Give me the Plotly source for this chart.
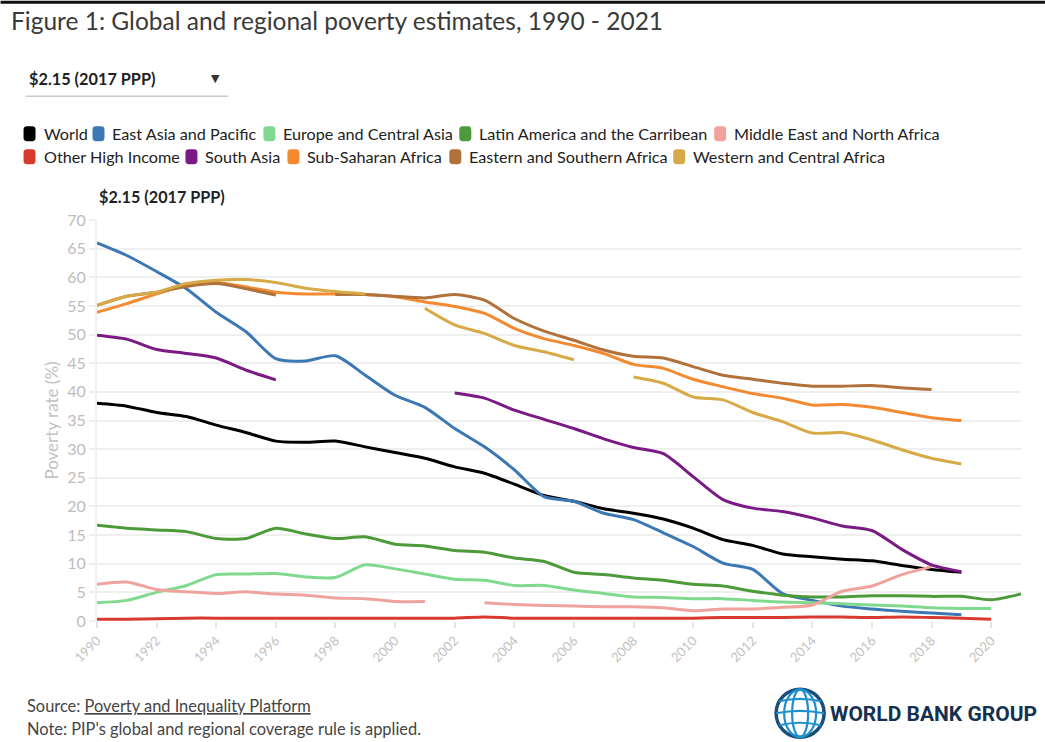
import math
import plotly.graph_objects as go

years = list(range(1990, 2022))

world = [38.0, 37.5, 36.4, 35.7, 34.2, 32.9, 31.4, 31.2, 31.4, 30.4, 29.4, 28.4, 26.9, 25.8, 23.9, 21.9,
         20.9, 19.6, 18.8, 17.8, 16.2, 14.2, 13.2, 11.7, 11.2, 10.8, 10.5, 9.7, 9.0, 8.5, None, None]
eap = [66.0, 63.8, 61.0, 58.0, 53.9, 50.5, 45.8, 45.4, 46.3, 42.9, 39.4, 37.3, 33.6, 30.4, 26.4, 21.7,
       20.9, 18.8, 17.7, 15.4, 13.0, 10.1, 9.0, 4.8, 3.6, 2.6, 2.1, 1.7, 1.4, 1.1, None, None]
eca = [3.2, 3.6, 5.0, 6.2, 8.1, 8.2, 8.3, 7.7, 7.6, 9.8, 9.1, 8.2, 7.3, 7.1, 6.2, 6.2,
       5.4, 4.8, 4.2, 4.1, 3.9, 3.9, 3.6, 3.3, 3.2, 3.0, 2.8, 2.6, 2.3, 2.2, 2.2, None]
lac = [16.7, 16.2, 15.9, 15.6, 14.4, 14.4, 16.2, 15.2, 14.4, 14.7, 13.4, 13.1, 12.3, 12.0, 11.0, 10.4,
       8.5, 8.1, 7.5, 7.1, 6.4, 6.1, 5.2, 4.5, 4.2, 4.2, 4.4, 4.4, 4.3, 4.3, 3.7, 4.7]
mena = [6.4, 6.8, 5.5, 5.1, 4.8, 5.1, 4.7, 4.5, 4.0, 3.9, 3.4, 3.4, None, 3.2, 2.9, 2.7,
        2.6, 2.5, 2.5, 2.3, 1.8, 2.1, 2.1, 2.4, 2.8, 5.2, 6.1, 8.1, 9.5, None, None, None]
ohi = [0.3, 0.3, 0.4, 0.5, 0.5, 0.5, 0.5, 0.5, 0.5, 0.5, 0.5, 0.5, 0.5, 0.7, 0.5, 0.5,
       0.5, 0.5, 0.5, 0.5, 0.5, 0.6, 0.6, 0.6, 0.7, 0.7, 0.6, 0.7, 0.6, 0.5, 0.3, None]
sa = [49.9, 49.2, 47.4, 46.7, 45.9, 43.8, 42.1, None, None, None, None, None, 39.8, 38.9, 36.8, 35.2,
      33.6, 31.8, 30.3, 29.2, 25.2, 21.2, 19.7, 19.1, 18.0, 16.6, 15.8, 12.5, 9.8, 8.6, None, None]
ssa = [53.9, 55.4, 57.1, 58.6, 59.1, 58.3, 57.4, 57.1, 57.1, 57.0, 56.6, 55.7, 54.9, 53.7, 51.1, 49.3,
       48.1, 46.7, 44.8, 44.1, 42.2, 40.9, 39.7, 38.9, 37.7, 37.8, 37.3, 36.4, 35.5, 35.0, None, None]
esa = [55.1, 56.7, 57.4, 58.4, 58.9, 58.0, 56.9, None, 57.0, 57.0, 56.7, 56.4, 57.0, 56.0, 52.8, 50.6,
       49.0, 47.3, 46.2, 45.9, 44.4, 42.9, 42.2, 41.5, 41.0, 41.0, 41.1, 40.7, 40.4, None, None, None]
wca = [55.1, 56.7, 57.4, 58.9, 59.5, 59.6, 59.1, 58.1, 57.5, 57.1, None, 54.6, 51.7, 50.2, 48.1, 47.0,
       45.6, None, 42.6, 41.5, 39.1, 38.6, 36.4, 34.8, 32.8, 32.9, 31.6, 29.9, 28.4, 27.4, None, None]

series_names = ["World", "East Asia and Pacific", "Europe and Central Asia",
                "Latin America and the Carribean", "Middle East and North Africa",
                "Other High Income", "South Asia", "Sub-Saharan Africa",
                "Eastern and Southern Africa", "Western and Central Africa"]
series_values = [world, eap, eca, lac, mena, ohi, sa, ssa, esa, wca]
series_colors = ["#000000", "#3b78b4", "#7fd98f", "#4d9a3a", "#f0a29c",
                 "#d93a2f", "#7a1a84", "#f38a31", "#b0723a", "#d7aa47"]

x_ticks = list(range(1990, 2021, 2))
y_ticks = list(range(0, 71, 5))

W, H = 1045, 742
L, R, T, B = 96.5, 24, 219.5, 120.5
PW, PH = W - L - R, H - T - B


def px(x):
    return (x - L) / PW


def py(y):
    return (H - B - y) / PH


fig = go.Figure()
for name, vals, col in zip(series_names, series_values, series_colors):
    fig.add_trace(go.Scatter(x=years, y=vals, name=name, mode="lines",
                             line=dict(color=col, width=3, shape="spline", smoothing=0.7),
                             connectgaps=False, showlegend=False, hoverinfo="skip"))

FONT = "Lato"
shapes = []
annotations = []

# top dark bar
shapes.append(dict(type="line", xref="paper", yref="paper", x0=px(0), x1=px(W), y0=py(1.2), y1=py(1.2),
                   line=dict(color="#111111", width=3), layer="above"))

# title
annotations.append(dict(text="Figure 1: Global and regional poverty estimates, 1990 - 2021",
                        x=px(8), y=py(20), xref="paper", yref="paper", xanchor="left", yanchor="middle",
                        showarrow=False, font=dict(family=FONT, size=24.5, color="#3a3a3a")))

# dropdown look
annotations.append(dict(text="<b>$2.15 (2017 PPP)</b>", x=px(26), y=py(78), xref="paper", yref="paper",
                        xanchor="left", yanchor="middle", showarrow=False,
                        font=dict(family=FONT, size=16.3, color="#222222")))
annotations.append(dict(text="▼", x=px(215), y=py(78), xref="paper", yref="paper",
                        xanchor="center", yanchor="middle", showarrow=False,
                        font=dict(family="DejaVu Sans", size=11, color="#333333")))
shapes.append(dict(type="line", xref="paper", yref="paper", x0=px(25), x1=px(228), y0=py(95.5), y1=py(95.5),
                   line=dict(color="#cccccc", width=1.5)))

# legend (manual)
legend_text_x = [41, 110, 281, 477, 732, 41, 203, 305, 467, 691]
legend_row_y = [133, 133, 133, 133, 133, 156, 156, 156, 156, 156]


def rounded_rect(x0, y0, x1, y1, r):
    pts = [
        f"M {px(x0 + r)},{py(y0)}",
        f"L {px(x1 - r)},{py(y0)}",
        f"Q {px(x1)},{py(y0)} {px(x1)},{py(y0 + r)}",
        f"L {px(x1)},{py(y1 - r)}",
        f"Q {px(x1)},{py(y1)} {px(x1 - r)},{py(y1)}",
        f"L {px(x0 + r)},{py(y1)}",
        f"Q {px(x0)},{py(y1)} {px(x0)},{py(y1 - r)}",
        f"L {px(x0)},{py(y0 + r)}",
        f"Q {px(x0)},{py(y0)} {px(x0 + r)},{py(y0)}",
        "Z",
    ]
    return " ".join(pts)


for name, col, tx, ty in zip(series_names, series_colors, legend_text_x, legend_row_y):
    shapes.append(dict(type="path", xref="paper", yref="paper",
                       path=rounded_rect(tx - 18, ty - 7.5, tx - 6, ty + 7.5, 3.5),
                       fillcolor=col, line=dict(width=0)))
    annotations.append(dict(text=name, x=px(tx), y=py(ty), xref="paper", yref="paper",
                            xanchor="left", yanchor="middle", showarrow=False,
                            font=dict(family=FONT, size=16.2, color="#222222")))

# chart subtitle
annotations.append(dict(text="<b>$2.15 (2017 PPP)</b>", x=px(96), y=py(196), xref="paper", yref="paper",
                        xanchor="left", yanchor="middle", showarrow=False,
                        font=dict(family=FONT, size=16.2, color="#222222")))

# footer
annotations.append(dict(text="Source: <u>Poverty and Inequality Platform</u>", x=px(24), y=py(706),
                        xref="paper", yref="paper", xanchor="left", yanchor="middle", showarrow=False,
                        font=dict(family=FONT, size=16.4, color="#444444")))
annotations.append(dict(text="Note: PIP's global and regional coverage rule is applied.", x=px(24), y=py(729),
                        xref="paper", yref="paper", xanchor="left", yanchor="middle", showarrow=False,
                        font=dict(family=FONT, size=16.4, color="#444444")))

# World Bank Group logo
cx, cy, rr = 800, 714, 24
shapes.append(dict(type="circle", xref="paper", yref="paper", x0=px(cx - rr), x1=px(cx + rr),
                   y0=py(cy + rr), y1=py(cy - rr), fillcolor="rgba(0,0,0,0)",
                   line=dict(color="#1b4f78", width=3.5)))
for half in [8, 16]:
    shapes.append(dict(type="circle", xref="paper", yref="paper", x0=px(cx - half), x1=px(cx + half),
                       y0=py(cy + rr), y1=py(cy - rr), fillcolor="rgba(0,0,0,0)",
                       line=dict(color="#1e8fcf", width=2.2)))
for dy in [-12, 0, 12]:
    hw = math.sqrt(max(rr * rr - dy * dy, 0))
    shapes.append(dict(type="path", xref="paper", yref="paper",
                       path=f"M {px(cx - hw)},{py(cy + dy)} Q {px(cx)},{py(cy + dy - 5)} {px(cx + hw)},{py(cy + dy)}",
                       line=dict(color="#1e8fcf", width=2.2)))
annotations.append(dict(text="<b>WORLD BANK GROUP</b>", x=px(828), y=py(715), xref="paper", yref="paper",
                        xanchor="left", yanchor="middle", showarrow=False,
                        font=dict(family="Roboto", size=21, color="#14314f")))

fig.update_layout(
    width=W, height=H,
    margin=dict(l=L, r=R, t=T, b=B),
    paper_bgcolor="white", plot_bgcolor="white",
    shapes=shapes, annotations=annotations,
    showlegend=False,
    xaxis=dict(range=[1990, 2021], tickvals=x_ticks, ticktext=[str(v) for v in x_ticks],
               tickangle=-45, showgrid=False, zeroline=False, showline=False,
               ticks="outside", ticklen=6, tickcolor="#e6e6e6", tickwidth=1.5,
               tickfont=dict(family=FONT, size=13, color="#c2c2c2")),
    yaxis=dict(range=[0, 70], tickvals=y_ticks, showgrid=True, gridcolor="#efefef", gridwidth=2,
               zeroline=False, showline=True, linecolor="#efefef", linewidth=2,
               ticks="outside", ticklen=6, tickcolor="#efefef", tickwidth=2,
               ticklabelstandoff=0,
               tickfont=dict(family=FONT, size=16, color="#bdbdbd"),
               title=dict(text="Poverty rate (%)", font=dict(family=FONT, size=17, color="#c2c2c2"), standoff=4)),
)

fig.write_html("out.html", config={"displayModeBar": False},
               post_script="document.body.style.margin='0px';document.body.style.overflow='hidden';")
